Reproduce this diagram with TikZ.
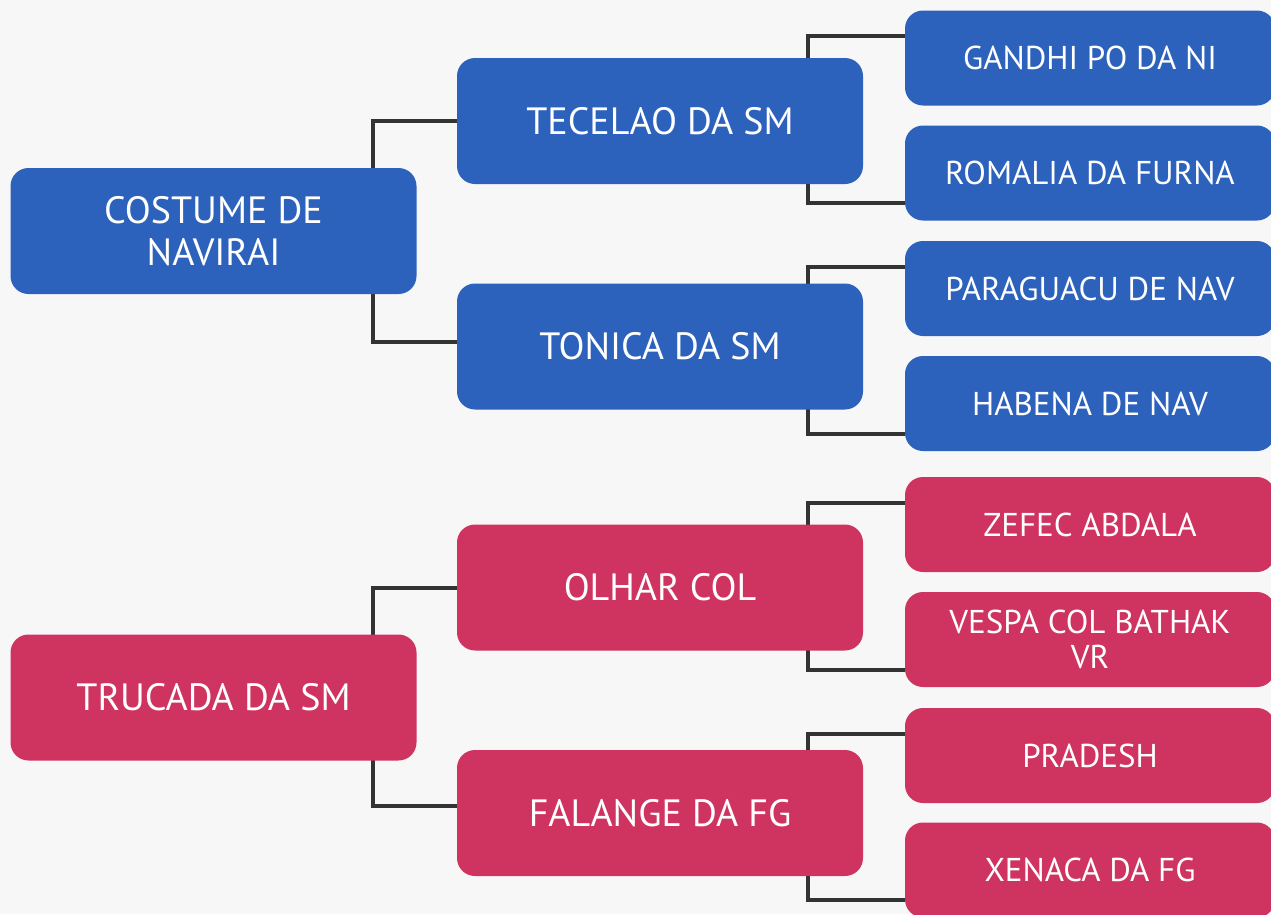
\documentclass[tikz,border=0pt]{standalone}
\usepackage{fontspec}
\setmainfont{PT Sans}
\usetikzlibrary{backgrounds}
\definecolor{boxblue}{HTML}{2D62BC}
\definecolor{boxred}{HTML}{CF3461}
\definecolor{linegray}{HTML}{333333}
\definecolor{bggray}{HTML}{F7F7F7}

\begin{document}
\begin{tikzpicture}[x=1pt,y=-1pt,
  box/.style={rounded corners=18pt,minimum width=406pt,minimum height=126pt,inner sep=0pt,
    text=white,align=center,font=\fontsize{38}{42}\selectfont},
  leaf/.style={box,minimum width=370pt,minimum height=95pt,font=\fontsize{33}{35}\selectfont},
  link/.style={draw=linegray,line width=4pt}]
  \useasboundingbox (0,0) rectangle (1271,914);
  % first level
  \node[box,fill=boxblue] (costume) at (213.5,231) {COSTUME DE\\NAVIRAI};
  \node[box,fill=boxred] (trucada) at (213.5,697.5) {TRUCADA DA SM};
  % second level
  \node[box,fill=boxblue] (tecelao) at (660,121) {TECELAO DA SM};
  \node[box,fill=boxblue] (tonica) at (660,346.5) {TONICA DA SM};
  \node[box,fill=boxred] (olhar) at (660,587.5) {OLHAR COL};
  \node[box,fill=boxred] (falange) at (660,813) {FALANGE DA FG};
  % leaves
  \node[leaf,fill=boxblue] (gandhi) at (1090,58) {GANDHI PO DA NI};
  \node[leaf,fill=boxblue] (romalia) at (1090,173) {ROMALIA DA FURNA};
  \node[leaf,fill=boxblue] (paraguacu) at (1090,288.5) {PARAGUACU DE NAV};
  \node[leaf,fill=boxblue] (habena) at (1090,403.5) {HABENA DE NAV};
  \node[leaf,fill=boxred] (zefec) at (1090,524.5) {ZEFEC ABDALA};
  \node[leaf,fill=boxred] (vespa) at (1090,639.5) {VESPA COL BATHAK\\VR};
  \node[leaf,fill=boxred] (pradesh) at (1090,755.5) {PRADESH};
  \node[leaf,fill=boxred] (xenaca) at (1090,870) {XENACA DA FG};
  % connectors behind the boxes
  \begin{pgfonlayer}{background}
    \fill[bggray] (0,0) rectangle (1271,914);
    \draw[link] (tecelao.west) -- ++(-84,0) |- ([yshift=5pt]tonica.west);
    \draw[link] (olhar.west) -- ++(-84,0) |- ([yshift=7pt]falange.west);
    \foreach \m/\a/\b in {tecelao/gandhi/romalia,tonica/paraguacu/habena,olhar/zefec/vespa,falange/pradesh/xenaca}
      \draw[link] ([yshift=22pt]\a.west) -- ++(-97,0) |- ([yshift=-30pt]\b.west);
  \end{pgfonlayer}
\end{tikzpicture}
\end{document}
